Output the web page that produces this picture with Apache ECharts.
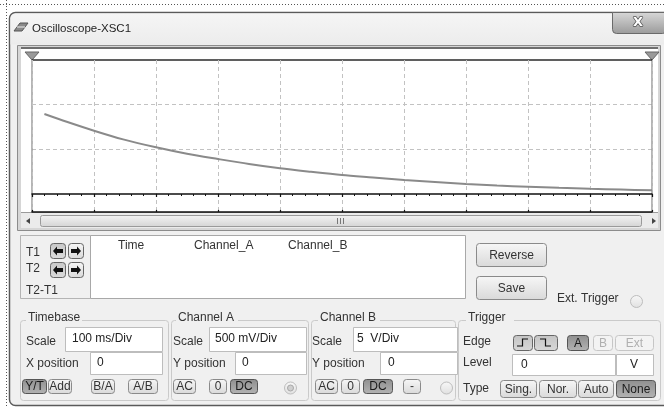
<!DOCTYPE html>
<html><head><meta charset="utf-8">
<script src="https://cdn.jsdelivr.net/npm/echarts@6/dist/echarts.min.js"></script>
<style>html,body{margin:0;padding:0;background:#fff}#c{width:664px;height:408px}</style>
</head><body><div id="c"></div><script>
// Channel A trace: time in ms, voltage in V (500 mV/div, 100 ms/div)
const timeMs = [20, 56, 100, 147, 200, 250, 300, 350, 400, 450, 500, 550, 600, 650, 700, 750, 800, 850, 900, 950, 1000];
const channelA = [0.896, 0.809, 0.709, 0.612, 0.523, 0.451, 0.392, 0.336, 0.288, 0.249, 0.213, 0.185, 0.157, 0.134, 0.112, 0.095, 0.082, 0.069, 0.059, 0.050, 0.041];
// horizontal graticule lines (V) and cursor T1 / T2 positions (ms)
const gridVolts = [0.5, 1.0];
const cursorTimes = [0, 1000];
const screenTop = 1.5;

const FONT = '12px "Liberation Sans", Arial, sans-serif';
const els = [];
const grad = (a, b) => new echarts.graphic.LinearGradient(0, 0, 0, 1, [{offset: 0, color: a}, {offset: 1, color: b}]);

function rect(x, y, w, h, o) {
  o = o || {};
  els.push({type: 'rect', silent: true, z: o.z || 1,
    shape: {x: x, y: y, width: w, height: h, r: o.r || 0},
    style: {fill: o.fill || 'none', stroke: o.stroke || null, lineWidth: o.lw || 1}});
}
function text(str, x, y, o) {
  o = o || {};
  els.push({type: 'text', silent: true, z: o.z || 5,
    style: {text: str, x: x, y: y, font: o.font || FONT, fill: o.fill || '#333',
      textAlign: o.align || 'left', align: o.align || 'left',
      textVerticalAlign: 'middle', verticalAlign: 'middle',
      stroke: o.stroke || null, lineWidth: o.lw || 0}});
}
function line(x1, y1, x2, y2, o) {
  o = o || {};
  els.push({type: 'line', silent: true, z: o.z || 2,
    shape: {x1: x1, y1: y1, x2: x2, y2: y2},
    style: {stroke: o.stroke || '#333', lineWidth: o.lw || 1, lineDash: o.dash || null}});
}
function poly(points, o) {
  o = o || {};
  els.push({type: o.open ? 'polyline' : 'polygon', silent: true, z: o.z || 4,
    shape: {points: points},
    style: {fill: o.open ? 'none' : (o.fill || '#333'), stroke: o.stroke || null, lineWidth: o.lw || 1}});
}
function circle(cx, cy, r, o) {
  els.push({type: 'circle', silent: true, z: o.z || 3, shape: {cx: cx, cy: cy, r: r},
    style: {fill: o.fill || 'none', stroke: o.stroke || null, lineWidth: o.lw || 1}});
}
function button(label, x, y, w, h, state) {
  let fill = grad('#f7f7f7', '#d9d9d9'), stroke = '#8a8a8a', tc = '#333';
  if (state === 'on') { fill = grad('#8f8f8f', '#b3b3b3'); stroke = '#555'; tc = '#1a1a1a'; }
  if (state === 'half') { fill = grad('#c4c4c4', '#d8d8d8'); stroke = '#666'; }
  if (state === 'off') { fill = '#f3f3f3'; stroke = '#c6c6c6'; tc = '#b0b0b0'; }
  rect(x + 0.5, y + 0.5, w, h, {fill: fill, stroke: stroke, r: 3, z: 3});
  if (label) text(label, x + w / 2 + 0.5, y + h / 2 + 1, {align: 'center', fill: tc});
}
function field(x, y, w, h, val, tx, align) {
  rect(x + 0.5, y + 0.5, w, h, {fill: '#fff', stroke: '#bdbdbd', z: 3});
  text(val, tx, y + h / 2, {align: align || 'left', fill: '#222'});
}
function groupBox(x, y, w, h, label, lx, lw) {
  rect(x + 0.5, y + 0.5, w, h, {stroke: '#cacaca', r: 3, z: 2});
  rect(lx - 2, y - 5, lw + 4, 10, {fill: '#f0f0f0', z: 3});
  text(label, lx, y - 2, {});
}
function arrowBtn(x, y, dir, shade) {
  rect(x + 0.5, y + 0.5, 15, 15, {fill: shade ? grad('#c8c8c8', '#dcdcdc') : grad('#f7f7f7', '#d9d9d9'), stroke: '#666', r: 3, z: 3});
  const cx = x + 8, cy = y + 8, s = dir;
  poly([[cx - 5 * s, cy], [cx - s, cy - 4.5], [cx - s, cy - 2], [cx + 5 * s, cy - 2],
        [cx + 5 * s, cy + 2], [cx - s, cy + 2], [cx - s, cy + 4.5]], {fill: '#111', z: 4});
}

/* ---------- surroundings and window frame ---------- */
line(0, 4.5, 664, 4.5, {stroke: '#555', dash: [1, 2], z: 1});
line(6.5, 0, 6.5, 408, {stroke: '#555', dash: [1, 2], z: 1});
rect(9.5, 12.5, 700, 393, {fill: '#f0f0f0', stroke: '#5a5a5a', lw: 1.5, r: 6, z: 1});
rect(10.5, 13.5, 700, 31, {fill: grad('#f5f5f5', '#ececec'), r: [5, 0, 0, 0], z: 1});

// title icon and caption
poly([[14, 31], [20, 23], [28, 23], [22, 31]], {fill: '#8a8a8a', stroke: '#555', z: 3});
poly([[17, 27], [25, 27]], {open: true, stroke: '#eee', z: 4});
text('Oscilloscope-XSC1', 32, 28.5, {font: '11.5px "Liberation Sans", Arial, sans-serif', fill: '#1e1e1e'});

// close button
rect(612.5, 12.5, 54, 21, {fill: grad('#d8d8d8', '#9a9a9a'), stroke: '#6a6a6a', r: [0, 0, 4, 4], z: 2});
text('X', 638, 23, {font: 'bold 13px "DejaVu Sans", sans-serif', fill: '#fff', stroke: '#555', lw: 1.5, align: 'center', z: 6});

/* ---------- display frame ---------- */
rect(17.5, 45.5, 643, 185, {fill: '#d6d6d6', stroke: '#8c8c8c', z: 1});
rect(21, 47, 637, 2, {fill: '#6e6e6e', z: 2});
rect(21, 49, 637, 163, {fill: '#ffffff', z: 1});
rect(21, 212, 637, 16, {fill: '#ebebeb', z: 1});
line(21, 212.5, 658, 212.5, {stroke: '#9a9a9a', z: 2});
// cursor markers in the header strip
poly([[25, 52], [39, 52], [32, 60]], {fill: '#9a9a9a', stroke: '#666', z: 4});
poly([[645, 52], [659, 52], [652, 60]], {fill: '#9a9a9a', stroke: '#666', z: 4});
// horizontal scrollbar
rect(40.5, 215.5, 601, 11, {fill: grad('#f4f4f4', '#d4d4d4'), stroke: '#9a9a9a', r: 2, z: 2});
line(337.5, 218, 337.5, 224, {stroke: '#777'});
line(340.5, 218, 340.5, 224, {stroke: '#777'});
line(343.5, 218, 343.5, 224, {stroke: '#777'});
poly([[26, 221], [30, 218], [30, 224]], {fill: '#444', z: 3});
poly([[656, 221], [652, 218], [652, 224]], {fill: '#444', z: 3});

/* ---------- cursor readout ---------- */
rect(20.5, 235.5, 70, 63, {fill: '#f0f0f0', stroke: '#b4b4b4', z: 2});
text('T1', 26, 252.5, {});
text('T2', 26, 268.5, {});
text('T2-T1', 26, 291, {});
arrowBtn(50, 243, 1, true); arrowBtn(68, 243, -1, false);
arrowBtn(50, 262, 1, true); arrowBtn(68, 262, -1, false);
rect(90.5, 235.5, 375, 63, {fill: '#fff', stroke: '#a8a8a8', z: 2});
text('Time', 118, 246, {});
text('Channel_A', 194, 246, {});
text('Channel_B', 288, 246, {});

button('Reverse', 476, 243, 70, 23, 'norm');
button('Save', 476, 276, 70, 23, 'norm');
text('Ext. Trigger', 557, 299, {});
circle(636.5, 301.5, 6, {fill: grad('#f8f8f8', '#e0e0e0'), stroke: '#bdbdbd'});

/* ---------- Timebase ---------- */
groupBox(20, 320, 148, 80, 'Timebase', 28, 52);
text('Scale', 26, 342, {});
field(65, 327, 97, 24, '100 ms/Div', 72);
text('X position', 26, 364, {});
field(90, 352, 72, 22, '0', 97);
button('Y/T', 22, 379, 24, 14, 'on');
button('Add', 48, 379, 23, 14, 'norm');
button('B/A', 91, 379, 23, 14, 'norm');
button('A/B', 128, 379, 29, 14, 'norm');

/* ---------- Channel A ---------- */
groupBox(171, 320, 137, 80, 'Channel A', 178, 58);
text('Scale', 173, 342, {});
field(209, 327, 97, 24, '500 mV/Div', 215);
text('Y position', 173, 364, {});
field(235, 352, 71, 22, '0', 242);
button('AC', 173, 379, 22, 14, 'norm');
button('0', 209, 379, 17, 14, 'norm');
button('DC', 230, 379, 27, 14, 'on');
circle(290.5, 388, 6, {fill: grad('#f8f8f8', '#e0e0e0'), stroke: '#bdbdbd'});
circle(290.5, 388, 3, {fill: '#cfcfcf', stroke: '#a8a8a8', z: 4});

/* ---------- Channel B ---------- */
groupBox(311, 320, 144, 80, 'Channel B', 320, 58);
text('Scale', 312, 342, {});
field(353, 327, 104, 24, '5  V/Div', 357);
text('Y position', 312, 364, {});
field(380, 352, 77, 22, '0', 388);
button('AC', 315, 379, 22, 14, 'norm');
button('0', 341, 379, 18, 14, 'norm');
button('DC', 363, 379, 29, 14, 'on');
button('-', 403, 379, 17, 14, 'norm');
circle(446.5, 388, 6, {fill: grad('#f8f8f8', '#e0e0e0'), stroke: '#bdbdbd'});

/* ---------- Trigger ---------- */
groupBox(458, 320, 202, 80, 'Trigger', 468, 44);
text('Edge', 463, 342, {});
button('', 513, 335, 19, 15, 'half');
poly([[517, 346], [522.5, 346], [522.5, 339], [528, 339]], {open: true, stroke: '#111', lw: 1.2, z: 5});
button('', 534, 335, 23, 15, 'half');
poly([[540, 339], [545.5, 339], [545.5, 346], [551, 346]], {open: true, stroke: '#111', lw: 1.2, z: 5});
button('A', 567, 335, 21, 15, 'on');
button('B', 593, 335, 19, 15, 'off');
button('Ext', 615, 335, 38, 15, 'off');
text('Level', 463, 363, {});
field(512, 354, 103, 21, '0', 521);
field(616, 354, 37, 21, 'V', 634, 'center');
text('Type', 463, 389, {});
button('Sing.', 500, 380, 36, 17, 'norm');
button('Nor.', 539, 380, 37, 17, 'norm');
button('Auto', 578, 380, 35, 17, 'norm');
button('None', 616, 380, 39, 17, 'on');

/* ---------- oscilloscope screen ---------- */
const markData = gridVolts.map(v => ({yAxis: v, lineStyle: {type: [4, 3], color: '#c2c2c2', width: 1}}))
  .concat(cursorTimes.map(t => ({xAxis: t, lineStyle: {type: 'solid', color: '#9c9c9c', width: 1.5}})))
  .concat([{yAxis: screenTop, lineStyle: {type: 'solid', color: '#2a2a2a', width: 1.5}}]);

// time axis shared settings; two copies give ticks on both sides of the zero line
const timeAxisBase = {
  type: 'value', min: 0, max: 1000, interval: 100, z: 6,
  axisLine: {onZero: true, lineStyle: {color: '#111', width: 1.5}},
  axisLabel: {show: false}
};

const chart = echarts.init(document.getElementById('c'), null, {renderer: 'canvas'});
chart.setOption({
  animation: false,
  backgroundColor: '#ffffff',
  grid: {left: 32, right: 12, top: 60, height: 151.9, containLabel: false, z: 5},
  xAxis: [
    Object.assign({}, timeAxisBase, {
      position: 'bottom',
      axisTick: {show: true, length: 3, lineStyle: {color: '#111', width: 1.2}},
      minorTick: {show: true, splitNumber: 5, length: 2, lineStyle: {color: '#111', width: 1}},
      splitLine: {show: true, lineStyle: {type: [4, 3], color: '#c2c2c2', width: 1}}
    }),
    Object.assign({}, timeAxisBase, {
      position: 'bottom',
      axisTick: {show: true, inside: true, length: 2, lineStyle: {color: '#111', width: 1.2}},
      minorTick: {show: false},
      splitLine: {show: false}
    })
  ],
  yAxis: {
    type: 'value', min: -0.2, max: screenTop,
    axisLine: {show: false}, axisTick: {show: false}, axisLabel: {show: false}, splitLine: {show: false}
  },
  graphic: {elements: els},
  series: [{
    type: 'line', z: 10, xAxisIndex: 0,
    data: timeMs.map((t, i) => [t, channelA[i]]),
    showSymbol: false, smooth: 0.3, clip: true,
    lineStyle: {color: '#8a8a8a', width: 2},
    markLine: {silent: true, symbol: ['none', 'none'], label: {show: false}, data: markData, animation: false}
  }]
});
</script></body></html>
